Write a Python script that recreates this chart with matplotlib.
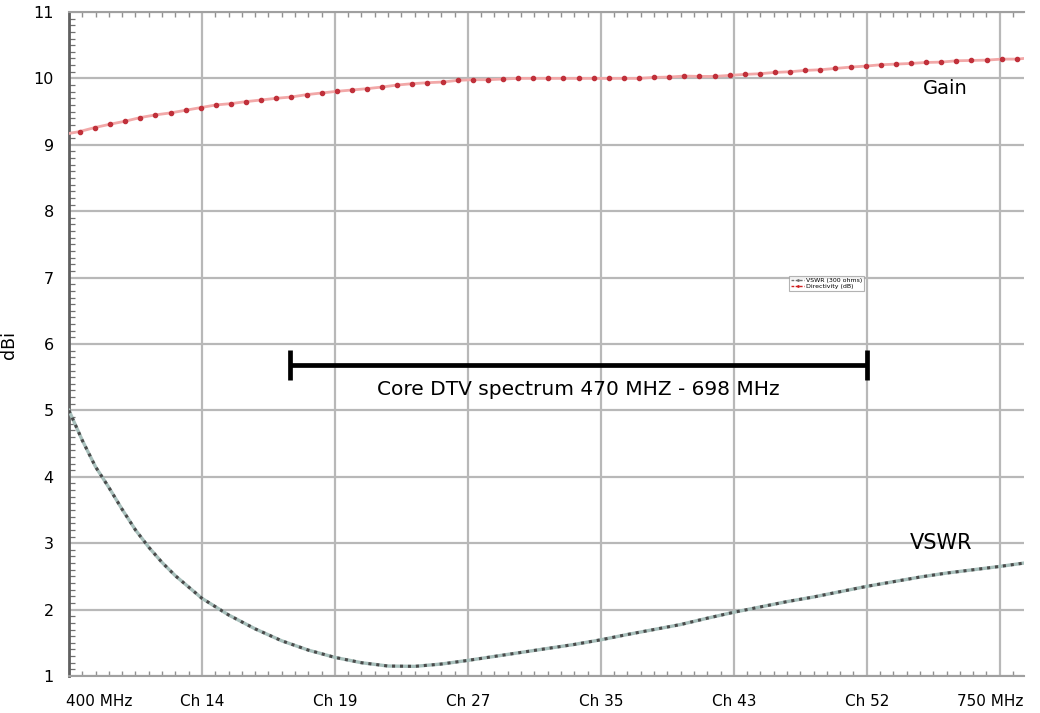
import numpy as np
import matplotlib
matplotlib.use('Agg')
import matplotlib.pyplot as plt
import matplotlib.transforms as mtransforms
from matplotlib.ticker import MultipleLocator

## data
# gain (directivity) dots, sweep 404 -> 756 MHz, plus the line ends
gain_dbi = [9.20, 9.26, 9.31, 9.355, 9.41, 9.45, 9.48, 9.52, 9.56, 9.60,
            9.62, 9.65, 9.675, 9.70, 9.72, 9.755, 9.78, 9.805, 9.825, 9.845,
            9.87, 9.90, 9.92, 9.935, 9.945, 9.97, 9.98, 9.98, 9.99, 10.0,
            10.0, 10.0, 10.0, 10.0, 10.0, 10.0, 10.0, 10.0, 10.015, 10.02,
            10.035, 10.03, 10.03, 10.045, 10.06, 10.07, 10.09, 10.10, 10.12, 10.13,
            10.15, 10.17, 10.185, 10.205, 10.215, 10.225, 10.24, 10.245, 10.265, 10.27,
            10.275, 10.29, 10.29, 10.30]
gain_start = (400, 9.17)
gain_end = (759, 10.30)

# VSWR curve
vswr_mhz = [400, 405, 410, 415, 420, 425, 430, 435, 440, 450, 460, 470, 480, 490,
            500, 510, 520, 530, 540, 550, 560, 570, 580, 590, 600, 610, 620,
            630, 640, 650, 660, 670, 680, 690, 700, 710, 720, 730, 740, 750, 759]
vswr = [5.0, 4.55, 4.15, 3.84, 3.51, 3.20, 2.94, 2.71, 2.51, 2.17, 1.92, 1.71, 1.53, 1.39,
        1.28, 1.20, 1.15, 1.145, 1.18, 1.235, 1.295, 1.355, 1.415, 1.475, 1.545, 1.625, 1.70,
        1.775, 1.87, 1.96, 2.04, 2.12, 2.19, 2.27, 2.35, 2.42, 2.49, 2.55, 2.60, 2.65, 2.70]

tick_mhz = [400, 450, 500, 550, 600, 650, 700, 750]
tick_labels = ['400 MHz', 'Ch 14', 'Ch 19', 'Ch 27', 'Ch 35', 'Ch 43', 'Ch 52', '750 MHz']
core_band = (483, 700)   # where the bar is drawn (labelled 470 - 698)

fig = plt.figure(figsize=(10.4, 7.13), dpi=100)
ax = fig.add_axes([0.0663, 0.0519, 0.918, 0.9313])

gain_mhz = np.linspace(404.1, 756.4, len(gain_dbi) - 1)
gx = [gain_start[0]] + list(gain_mhz) + [gain_end[0]]
gy = [gain_start[1]] + gain_dbi[:-1] + [gain_end[1]]

# gain: pink line with dark red dots
ax.plot(gx, gy, color='#f2a8a8', lw=2.0, zorder=3)
ax.plot(gx[1:-1], gy[1:-1], ls='none', marker='o', ms=3.0,
        color='#c0303a', mec='#c0303a', zorder=4)

# VSWR: grey-green line with dense dark dots
ax.plot(vswr_mhz, vswr, color='#a8c0bc', lw=2.4, zorder=3)
ax.plot(vswr_mhz, vswr, color='#4a4a4a', lw=2.2, ls=(0, (1.0, 1.6)), zorder=4)

# legend proxies
h1, = ax.plot([], [], color='#707070', ls=(0, (2, 1)), lw=1, marker='.', ms=2)
h2, = ax.plot([], [], color='#d02020', ls=(0, (2, 1)), lw=1, marker='.', ms=2)
leg = ax.legend([h1, h2], ['VSWR (300 ohms)', 'Directivity (dB)'],
                loc='upper left', bbox_to_anchor=(0.754, 0.603), fontsize=4.5,
                frameon=True, fancybox=False, handlelength=2.2, borderpad=0.3,
                labelspacing=0.15, handletextpad=0.3, borderaxespad=0)
leg.get_frame().set_edgecolor('#a0a0a0')
leg.get_frame().set_linewidth(0.8)

# core DTV bar
ax.errorbar((core_band[0] + core_band[1]) / 2, 5.68,
            xerr=(core_band[1] - core_band[0]) / 2, fmt='none',
            ecolor='black', elinewidth=3.4, capsize=10.8, capthick=3.4, zorder=5)
ax.text((core_band[0] + core_band[1]) / 2, 5.31, 'Core DTV spectrum 470 MHZ - 698 MHz',
        ha='center', va='center', fontsize=14.5)

ax.text(729.5, 9.85, 'Gain', ha='center', va='center', fontsize=14)
ax.text(728, 3.0, 'VSWR', ha='center', va='center', fontsize=15)

# axes
ax.set_xlim(400, 759)
ax.set_ylim(1.01, 11)
ax.set_xticks(tick_mhz)
ax.set_xticklabels(tick_labels, fontsize=11)
ax.set_yticks(range(1, 12))
ax.set_yticklabels([str(v) for v in range(1, 12)], fontsize=11.5)
ax.xaxis.set_minor_locator(MultipleLocator(5))
ax.yaxis.set_minor_locator(MultipleLocator(0.1))
ax.tick_params(axis='x', which='both', direction='in', top=True, color='#909090')
ax.tick_params(axis='x', which='major', length=0, pad=13)
ax.tick_params(axis='x', which='minor', length=3.5, width=1)
ax.tick_params(axis='y', which='major', length=0, pad=11)
ax.tick_params(axis='y', which='minor', direction='in', length=4, width=0.9, color='#707070')

labels = ax.get_xticklabels()
labels[0].set_ha('left')
labels[0].set_transform(labels[0].get_transform() +
                        mtransforms.ScaledTranslation(-3 / 100, 0, fig.dpi_scale_trans))
labels[-1].set_transform(labels[-1].get_transform() +
                         mtransforms.ScaledTranslation(-10 / 100, 0, fig.dpi_scale_trans))

ax.set_ylabel('dBi', fontsize=12.5)
ax.yaxis.set_label_coords(-0.0534, 0.4985)

ax.grid(True, which='major', color='#b8b8b8', lw=1.6)
ax.set_axisbelow(True)
ax.spines['right'].set_visible(False)
ax.spines['top'].set_color('#a0a0a0')
ax.spines['top'].set_linewidth(1.5)
ax.spines['bottom'].set_color('#a0a0a0')
ax.spines['bottom'].set_linewidth(1.5)
ax.spines['left'].set_color('#606060')
ax.spines['left'].set_linewidth(2)

fig.savefig('out.png', dpi=100)
